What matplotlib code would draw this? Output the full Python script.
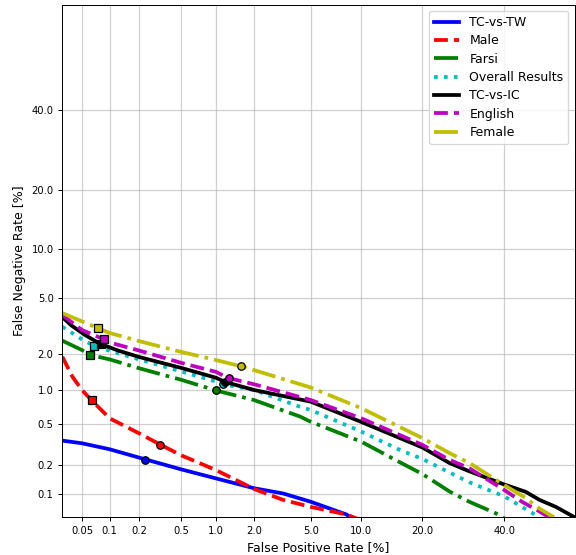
"""DET curves (false positive rate vs false negative rate) for each test condition."""

from statistics import NormalDist

import matplotlib

matplotlib.use("Agg")
import matplotlib.pyplot as plt
import numpy as np

# Curve points in percent: false positive rate / false negative rate.
tw_fpr = [0.03, 0.05, 0.1, 0.2, 0.5, 1.0, 2.0, 3.26, 5.0, 8.3, 9.0]
tw_fnr = [0.35, 0.33, 0.288, 0.238, 0.181, 0.146, 0.115, 0.101, 0.082, 0.059, 0.05]

male_fpr = [0.03, 0.039, 0.05, 0.064, 0.1, 0.2, 0.32, 0.5, 1.0, 2.0, 3.26, 5.0, 8.3, 9.5]
male_fnr = [1.89, 1.31, 1.01, 0.82, 0.566, 0.41, 0.32, 0.251, 0.178, 0.113, 0.086, 0.072, 0.059, 0.053]

farsi_fpr = [0.03, 0.05, 0.062, 0.1, 0.2, 0.5, 1.0, 2.0, 4.26, 5.0, 10.0, 15.7, 20.0, 25.9, 30.7, 37.7, 40.5]
farsi_fnr = [2.51, 2.13, 1.95, 1.80, 1.53, 1.23, 1.0, 0.827, 0.588, 0.527, 0.342, 0.215, 0.162, 0.106, 0.082, 0.061, 0.052]

overall_fpr = [0.03, 0.05, 0.068, 0.1, 0.2, 0.5, 1.0, 1.14, 2.0, 4.26, 5.0, 10.0, 15.7, 20.0, 25.9, 30.7, 40.0, 45.0, 50.0]
overall_fnr = [3.18, 2.57, 2.30, 2.10, 1.80, 1.44, 1.19, 1.13, 1.01, 0.72, 0.674, 0.427, 0.285, 0.231, 0.168, 0.133, 0.094, 0.072, 0.055]

ic_fpr = [0.03, 0.038, 0.053, 0.077, 0.12, 0.2, 0.5, 1.0, 1.19, 2.0, 5.0, 10.0, 20.0, 25.9, 30.7, 40.0, 46.1, 50.0, 54.7, 60.0]
ic_fnr = [3.72, 3.25, 2.79, 2.40, 2.12, 1.88, 1.54, 1.28, 1.18, 1.01, 0.80, 0.525, 0.30, 0.21, 0.173, 0.126, 0.105, 0.086, 0.072, 0.055]

english_fpr = [0.03, 0.05, 0.086, 0.1, 0.2, 0.5, 1.0, 1.27, 2.0, 5.0, 10.0, 15.7, 20.0, 25.9, 30.7, 40.0, 45.0, 50.0, 52.8]
english_fnr = [3.85, 3.01, 2.57, 2.43, 2.11, 1.69, 1.43, 1.27, 1.13, 0.827, 0.567, 0.397, 0.318, 0.226, 0.186, 0.110, 0.082, 0.064, 0.055]

female_fpr = [0.03, 0.075, 0.1, 0.2, 0.5, 1.0, 1.58, 2.0, 5.0, 10.0, 20.0, 25.9, 30.7, 40.0, 46.1, 50.0, 54.2]
female_fnr = [3.97, 3.10, 2.86, 2.49, 2.06, 1.78, 1.59, 1.48, 1.06, 0.70, 0.37, 0.264, 0.211, 0.124, 0.090, 0.069, 0.055]

# Equal error rate points (circles) and the square operating points.
eer_points = {
    "TC-vs-TW": (0.23, 0.224),
    "Male": (0.32, 0.32),
    "Farsi": (1.0, 1.0),
    "Overall Results": (1.14, 1.13),
    "TC-vs-IC": (1.19, 1.18),
    "English": (1.27, 1.27),
    "Female": (1.58, 1.59),
}
square_points = {
    "Male": (0.064, 0.82),
    "Farsi": (0.062, 1.95),
    "Overall Results": (0.068, 2.30),
    "TC-vs-IC": (0.080, 2.37),
    "English": (0.086, 2.57),
    "Female": (0.075, 3.10),
}

x_ticks = [0.05, 0.1, 0.2, 0.5, 1.0, 2.0, 5.0, 10.0, 20.0, 40.0]
y_ticks = [0.1, 0.2, 0.5, 1.0, 2.0, 5.0, 10.0, 20.0, 40.0]

_norm = NormalDist()
_ppf = np.vectorize(_norm.inv_cdf, otypes=[float])
_cdf = np.vectorize(_norm.cdf, otypes=[float])


def probit(pct):
    p = np.clip(np.asarray(pct, dtype=float) / 100.0, 1e-9, 1 - 1e-9)
    return _ppf(p)


def inv_probit(z):
    return _cdf(np.asarray(z, dtype=float)) * 100.0


def main() -> None:
    series = [
        ("TC-vs-TW", tw_fpr, tw_fnr, "b", "-"),
        ("Male", male_fpr, male_fnr, "r", "--"),
        ("Farsi", farsi_fpr, farsi_fnr, "g", "-."),
        ("Overall Results", overall_fpr, overall_fnr, "c", ":"),
        ("TC-vs-IC", ic_fpr, ic_fnr, "k", "-"),
        ("English", english_fpr, english_fnr, "m", "--"),
        ("Female", female_fpr, female_fnr, "y", "-."),
    ]

    fig, ax = plt.subplots(figsize=(6.4, 555 / 90), dpi=90)
    fig.subplots_adjust(left=0.1082, right=0.9977, bottom=0.0679, top=0.9915)
    ax.set_xscale("function", functions=(probit, inv_probit))
    ax.set_yscale("function", functions=(probit, inv_probit))

    # Each curve, then its EER circle and its square point on top.
    for label, fpr, fnr, color, style in series:
        ax.plot(fpr, fnr, linestyle=style, color=color, lw=3, label=label)
        ex, ey = eer_points[label]
        ax.plot(ex, ey, "o", color=color, mec="k", ms=6)
        if label in square_points:
            sx, sy = square_points[label]
            ax.plot(sx, sy, "s", color=color, mec="k", ms=6)

    ax.set_xlim(0.03, 60)
    ax.set_ylim(0.055, 70)
    ax.set_xticks(x_ticks)
    ax.set_xticklabels([str(t) for t in x_ticks])
    ax.set_yticks(y_ticks)
    ax.set_yticklabels([str(t) for t in y_ticks])
    ax.minorticks_off()
    ax.tick_params(labelsize=8)
    ax.grid(True, color="#b0b0b0", alpha=0.6, lw=1.0)
    ax.set_xlabel("False Positive Rate [%]")
    ax.set_ylabel("False Negative Rate [%]")
    ax.legend(loc="upper right", labelspacing=0.43)

    fig.savefig("out.png", dpi=90)
    plt.close(fig)


if __name__ == "__main__":
    main()
